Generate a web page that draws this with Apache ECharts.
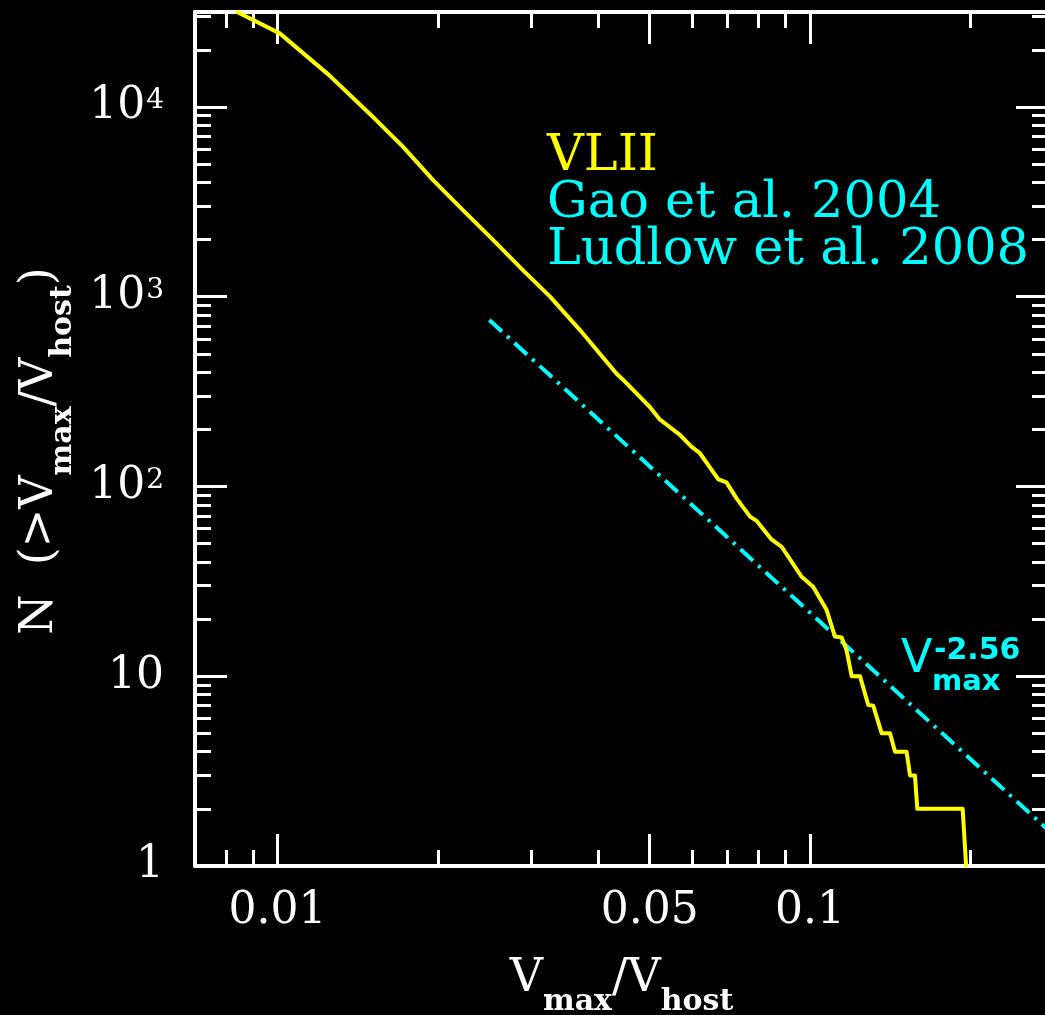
<!DOCTYPE html>
<html>
<head>
<meta charset="utf-8">
<script src="https://cdn.jsdelivr.net/npm/echarts@6/dist/echarts.min.js"></script>
<style>
  html, body { margin: 0; padding: 0; background: #000; }
  #chart { width: 1045px; height: 1015px; }
</style>
</head>
<body>
<div id="chart"></div>
<script>
// Cumulative subhalo counts N(>Vmax/Vhost) for Via Lactea II
const vlVmax = [0.0084, 0.0101, 0.0125, 0.0151, 0.0172, 0.0196, 0.0223, 0.0254, 0.0289, 0.0325,
                0.0370, 0.0433, 0.0446, 0.0500, 0.0522, 0.0570, 0.0599, 0.0621, 0.0673, 0.0697,
                0.0728, 0.0772, 0.0794, 0.0847, 0.0885, 0.0965, 0.1014, 0.1075, 0.1114, 0.1147,
                0.1172, 0.1198, 0.1242, 0.1287, 0.1315, 0.1364, 0.1414, 0.1445, 0.1519, 0.1542,
                0.1575, 0.1591, 0.1936, 0.1965];
const vlN = [31600, 24400, 14700, 8870, 6170, 4110, 2860, 1990, 1380, 1000,
             667, 394, 364, 263, 226, 187, 162, 150, 109, 105,
             86.5, 69.3, 65.9, 52.6, 48.1, 33.4, 29.6, 22.3, 16.2, 16,
             13.7, 10, 10, 7.05, 7, 5, 5, 4, 4, 3,
             3, 2, 2, 1];

// Power-law fit N ∝ Vmax^-2.56 (Gao et al. 2004; Ludlow et al. 2008)
const fitVmax = [0.025, 0.28];
const fitN = [753, 1.55];

// Axis ranges and ticks
const xRange = [0.007, 0.28];
const yRange = [1, 31623];
const xMajorTicks = [0.01, 0.05, 0.1];
const xMinorTicks = [0.008, 0.009, 0.02, 0.03, 0.04, 0.06, 0.07, 0.08, 0.09, 0.2];
const xTickLabels = ['0.01', '0.05', '0.1'];
const yMajorTicks = [1, 10, 100, 1000, 10000];
const yMinorTicks = [2, 3, 4, 5, 6, 7, 8, 9,
                     20, 30, 40, 50, 60, 70, 80, 90,
                     200, 300, 400, 500, 600, 700, 800, 900,
                     2000, 3000, 4000, 5000, 6000, 7000, 8000, 9000,
                     20000, 30000];
const yTickBase = ['1', '10', '10', '10', '10'];
const yTickExp = ['', '', '2', '3', '4'];

const legendNames = ['VLII', 'Gao et al. 2004', 'Ludlow et al. 2008'];
const legendColors = ['#ffff00', '#00ffff', '#00ffff'];

const SERIF = '"DejaVu Serif", serif';
const SANS = '"DejaVu Sans", sans-serif';
const WHITE = '#ffffff';

function pairs(xs, ys) {
  return xs.map((x, i) => [x, ys[i]]);
}
function findIndex(list, v) {
  for (let i = 0; i < list.length; i++) {
    if (Math.abs(list[i] - v) / list[i] < 1e-6) return i;
  }
  return -1;
}

const nameRich = {
  v: { fontFamily: SERIF, fontSize: 46, lineHeight: 46, color: WHITE, verticalAlign: 'top' },
  sub: { fontFamily: SERIF, fontWeight: 'bold', fontSize: 30, lineHeight: 30, color: WHITE,
         verticalAlign: 'top', padding: [31, 0, 0, 0] }
};

function frameAxis(pos, major, dim) {
  const isX = dim === 'x';
  return {
    type: 'log',
    position: pos,
    min: isX ? xRange[0] : yRange[0],
    max: isX ? xRange[1] : yRange[1],
    axisLine: { show: major, lineStyle: { color: WHITE, width: 4 } },
    axisTick: {
      show: true, inside: true, length: major ? 32 : 16,
      customValues: isX ? (major ? xMajorTicks : xMinorTicks) : (major ? yMajorTicks : yMinorTicks),
      lineStyle: { color: WHITE, width: 3 }
    },
    axisLabel: { show: false },
    splitLine: { show: false },
    minorTick: { show: false },
    minorSplitLine: { show: false }
  };
}

const xBottom = frameAxis('bottom', true, 'x');
xBottom.axisLabel = {
  show: true,
  customValues: xMajorTicks,
  margin: 24,
  color: WHITE,
  fontFamily: SERIF,
  fontSize: 44,
  formatter: function (v) {
    const i = findIndex(xMajorTicks, v);
    return i >= 0 ? xTickLabels[i] : '';
  }
};
xBottom.name = '{v|V}{sub|max}{v|/V}{sub|host}';
xBottom.nameLocation = 'middle';
xBottom.nameGap = 90;
xBottom.nameTextStyle = { rich: nameRich };

const yLeft = frameAxis('left', true, 'y');
yLeft.axisLabel = {
  show: true,
  customValues: yMajorTicks,
  margin: 31,
  color: WHITE,
  fontFamily: SERIF,
  fontSize: 44,
  formatter: function (v) {
    const i = findIndex(yMajorTicks, v);
    if (i < 0) return '';
    return yTickExp[i] ? '{b|' + yTickBase[i] + '}{sup|' + yTickExp[i] + '}' : '{b|' + yTickBase[i] + '}';
  },
  rich: {
    b: { fontFamily: SERIF, fontSize: 44, lineHeight: 44, color: WHITE, verticalAlign: 'top' },
    sup: { fontFamily: SERIF, fontSize: 28, lineHeight: 28, color: WHITE, verticalAlign: 'top',
           padding: [2, 0, 0, 1] }
  }
};
yLeft.name = '{v|N  (>V}{sub|max}{v|/V}{sub|host}{v|)}';
yLeft.nameLocation = 'middle';
yLeft.nameGap = 120;
yLeft.nameRotate = 90;
yLeft.nameTextStyle = { rich: nameRich, padding: [0, 24, 0, 0] };

const option = {
  backgroundColor: '#000000',
  animation: false,
  grid: { left: 195, top: 12, right: -3, bottom: 149, containLabel: false, outerBoundsMode: 'none' },
  xAxis: [
    xBottom,
    frameAxis('bottom', false, 'x'),
    frameAxis('top', true, 'x'),
    frameAxis('top', false, 'x')
  ],
  yAxis: [
    yLeft,
    frameAxis('left', false, 'y'),
    frameAxis('right', true, 'y'),
    frameAxis('right', false, 'y')
  ],
  series: [
    {
      name: 'VLII',
      type: 'line',
      xAxisIndex: 0,
      yAxisIndex: 0,
      data: pairs(vlVmax, vlN),
      showSymbol: false,
      clip: true,
      lineStyle: { color: legendColors[0], width: 4, cap: 'round', join: 'round' },
      z: 4
    },
    {
      name: 'Vmax^-2.56',
      type: 'line',
      xAxisIndex: 0,
      yAxisIndex: 0,
      data: pairs(fitVmax, fitN),
      showSymbol: false,
      clip: true,
      lineStyle: { color: legendColors[1], width: 4, type: [17, 7, 3, 7], cap: 'butt' },
      z: 3
    }
  ],
  graphic: [
    ...legendNames.map((t, i) => ({
      type: 'text',
      x: 547,
      y: 157 + i * 47,
      style: {
        text: t, fill: legendColors[i], font: '51px ' + SERIF,
        textAlign: 'left', textVerticalAlign: 'middle', align: 'left', verticalAlign: 'middle'
      }
    })),
    {
      type: 'text', x: 901, y: 660,
      style: { text: 'V', fill: '#00ffff', font: '46px ' + SANS,
               textAlign: 'left', textVerticalAlign: 'middle', align: 'left', verticalAlign: 'middle' }
    },
    {
      type: 'text', x: 934, y: 651,
      style: { text: '-2.56', fill: '#00ffff', font: 'bold 30px ' + SANS,
               textAlign: 'left', textVerticalAlign: 'middle', align: 'left', verticalAlign: 'middle' }
    },
    {
      type: 'text', x: 932, y: 682,
      style: { text: 'max', fill: '#00ffff', font: 'bold 29px ' + SANS,
               textAlign: 'left', textVerticalAlign: 'middle', align: 'left', verticalAlign: 'middle' }
    }
  ]
};

const chart = echarts.init(document.getElementById('chart'));
chart.setOption(option);
</script>
</body>
</html>
